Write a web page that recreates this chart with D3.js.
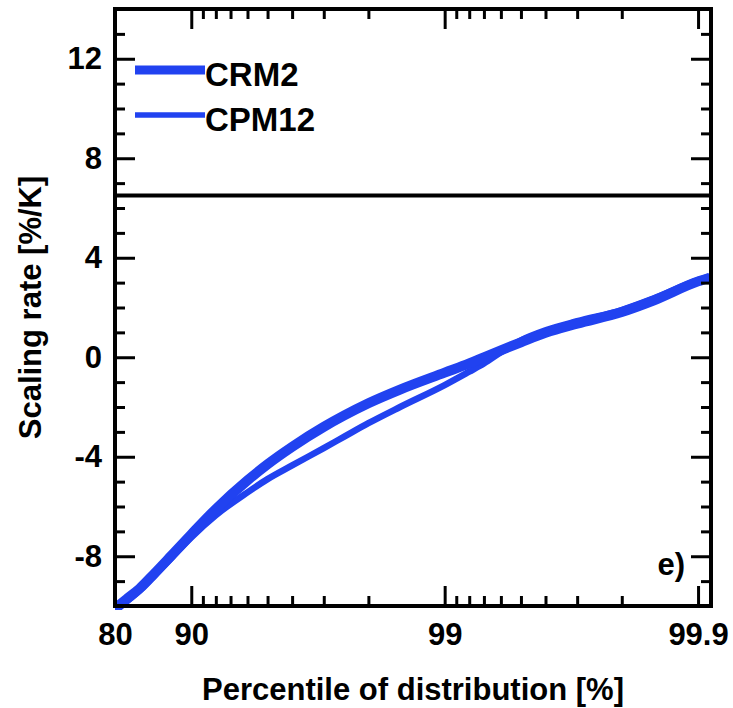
<!DOCTYPE html>
<html>
<head>
<meta charset="utf-8">
<script src="https://cdn.jsdelivr.net/npm/d3@7"></script>
<style>
    body { margin: 0; background: #fff; }
    svg text { font-family: "Liberation Sans", Arial, Helvetica, sans-serif; font-weight: bold; fill: #000; }
</style>
</head>
<body>
<svg id="figure"></svg>
<script>
// percentiles of the distribution (x) and scaling rates in %/K (y)
const percentiles = [80, 82, 84, 86, 88, 90, 92, 94, 95, 96, 97, 97.5, 98, 98.5,
    99, 99.2, 99.3, 99.4, 99.5, 99.6, 99.7, 99.8, 99.85, 99.9, 99.91];
const crm2 = [-10.1, -9.72, -9.3, -8.7, -7.98, -7.12, -6.1, -4.95, -4.3, -3.6, -2.8, -2.35, -1.85, -1.3,
    -0.62, -0.25, 0.0, 0.28, 0.6, 0.98, 1.35, 1.82, 2.28, 3.05, 3.2];
const cpm12 = [-10.22, -9.82, -9.38, -8.78, -8.08, -7.24, -6.35, -5.43, -4.9, -4.35, -3.65, -3.2, -2.65, -2.0,
    -1.12, -0.58, -0.25, 0.2, 0.68, 1.08, 1.45, 1.9, 2.36, 3.1, 3.25];

const seriesNames = ["CRM2", "CPM12"];
const panelLabel = "e)";
const ccRate = 6.5;   // horizontal reference line

const xTickValues = [80, 90, 99, 99.9];
const xTickLabels = ["80", "90", "99", "99.9"];
const xMinorTicks = [91, 92, 93, 94, 95, 96, 97, 98, 99.1, 99.2, 99.3, 99.4, 99.5, 99.6, 99.7, 99.8];
const yTickValues = [-8, -4, 0, 4, 8, 12];
const yMinorTicks = [-9, -7, -6, -5, -3, -2, -1, 1, 2, 3, 5, 6, 7, 9, 10, 11, 13];

class ScalingChart {
    constructor() {
        this.margin = {top: 9, right: 22, bottom: 102, left: 115};
        this.width = 733 - this.margin.left - this.margin.right;
        this.height = 708 - this.margin.top - this.margin.bottom;
        this.color = "#2142f0";

        const root = d3.select("#figure")
            .attr("width", 733)
            .attr("height", 708);

        this.svg = root.append("g")
            .attr("transform", "translate(" + this.margin.left + "," + this.margin.top + ")");

        // x is a log scale of the exceedance (100 - percentile)
        this.xLog = d3.scaleLog()
            .domain([20, 0.0889])
            .range([0, this.width]);
        this.x = p => this.xLog(100 - p);

        this.y = d3.scaleLinear()
            .domain([-10, 14])
            .range([this.height, 0]);
    }

    drawAxes() {
        const w = this.width, h = this.height;
        const exc = p => 100 - p;
        const clean = g => g.select(".domain").remove();
        const style = g => g.selectAll("line").attr("stroke", "#000").attr("stroke-width", 3);

        // bottom, with labels
        this.svg.append("g")
            .attr("transform", "translate(0," + h + ")")
            .call(d3.axisBottom(this.xLog).tickValues(xTickValues.map(exc))
                .tickSize(-20).tickPadding(17)
                .tickFormat((d, i) => xTickLabels[i]))
            .call(clean).call(style)
            .selectAll("text").attr("font-size", 31);
        this.svg.append("g")
            .attr("transform", "translate(0," + h + ")")
            .call(d3.axisBottom(this.xLog).tickValues(xMinorTicks.map(exc)).tickSize(-10).tickFormat(""))
            .call(clean).call(style);

        // top, ticks only
        this.svg.append("g")
            .call(d3.axisTop(this.xLog).tickValues(xTickValues.map(exc)).tickSize(-20).tickFormat(""))
            .call(clean).call(style);
        this.svg.append("g")
            .call(d3.axisTop(this.xLog).tickValues(xMinorTicks.map(exc)).tickSize(-10).tickFormat(""))
            .call(clean).call(style);

        // left, with labels
        this.svg.append("g")
            .call(d3.axisLeft(this.y).tickValues(yTickValues)
                .tickSize(-20).tickPadding(13)
                .tickFormat(d => d < 0 ? "-" + Math.abs(d) : d))
            .call(clean).call(style)
            .selectAll("text").attr("font-size", 31);
        this.svg.append("g")
            .call(d3.axisLeft(this.y).tickValues(yMinorTicks).tickSize(-10).tickFormat(""))
            .call(clean).call(style);

        // right, ticks only
        this.svg.append("g")
            .attr("transform", "translate(" + w + ",0)")
            .call(d3.axisRight(this.y).tickValues(yTickValues).tickSize(-20).tickFormat(""))
            .call(clean).call(style);
        this.svg.append("g")
            .attr("transform", "translate(" + w + ",0)")
            .call(d3.axisRight(this.y).tickValues(yMinorTicks).tickSize(-10).tickFormat(""))
            .call(clean).call(style);

        this.svg.selectAll(".tick text").attr("fill", "#000");
    }

    draw() {
        const w = this.width, h = this.height;

        this.svg.append("clipPath")
            .attr("id", "plot-clip")
            .append("rect")
            .attr("width", w)
            .attr("height", h + 4);

        const line = d3.line()
            .x(d => this.x(d[0]))
            .y(d => this.y(d[1]))
            .curve(d3.curveMonotoneX);

        const series = [
            {name: seriesNames[0], values: crm2, width: 10},
            {name: seriesNames[1], values: cpm12, width: 6.5}
        ];

        this.svg.append("g")
            .attr("clip-path", "url(#plot-clip)")
            .selectAll("path")
            .data(series.slice().reverse())
            .enter()
            .append("path")
            .attr("fill", "none")
            .attr("stroke", this.color)
            .attr("stroke-width", d => d.width)
            .attr("d", d => line(percentiles.map((p, i) => [p, d.values[i]])));

        // reference line
        this.svg.append("line")
            .attr("x1", 0).attr("x2", w)
            .attr("y1", this.y(ccRate)).attr("y2", this.y(ccRate))
            .attr("stroke", "#000")
            .attr("stroke-width", 4);

        this.drawAxes();

        // frame
        this.svg.append("rect")
            .attr("width", w)
            .attr("height", h)
            .attr("fill", "none")
            .attr("stroke", "#000")
            .attr("stroke-width", 4);

        // legend
        const legend = this.svg.append("g")
            .attr("transform", "translate(20,0)");
        series.forEach((s, i) => {
            const ly = this.y(11.55) + i * 45;
            legend.append("line")
                .attr("x1", 0).attr("x2", 70)
                .attr("y1", ly).attr("y2", ly)
                .attr("stroke", this.color)
                .attr("stroke-width", i === 0 ? 9 : 5.5);
            legend.append("text")
                .attr("x", 70)
                .attr("y", ly + 16)
                .attr("font-size", 33)
                .text(s.name);
        });

        this.svg.append("text")
            .attr("x", w - 26)
            .attr("y", this.y(-8) + 19)
            .attr("text-anchor", "end")
            .attr("font-size", 31)
            .text(panelLabel);

        // axis titles
        this.svg.append("text")
            .attr("x", w / 2)
            .attr("y", h + 94)
            .attr("text-anchor", "middle")
            .attr("font-size", 31)
            .text("Percentile of distribution [%]");

        this.svg.append("text")
            .attr("transform", "translate(" + (41 - this.margin.left) + "," + (h / 2) + ") rotate(-90)")
            .attr("text-anchor", "middle")
            .attr("font-size", 31)
            .text("Scaling rate [%/K]");
    }
}

const chart = new ScalingChart();
chart.draw();
</script>
</body>
</html>
